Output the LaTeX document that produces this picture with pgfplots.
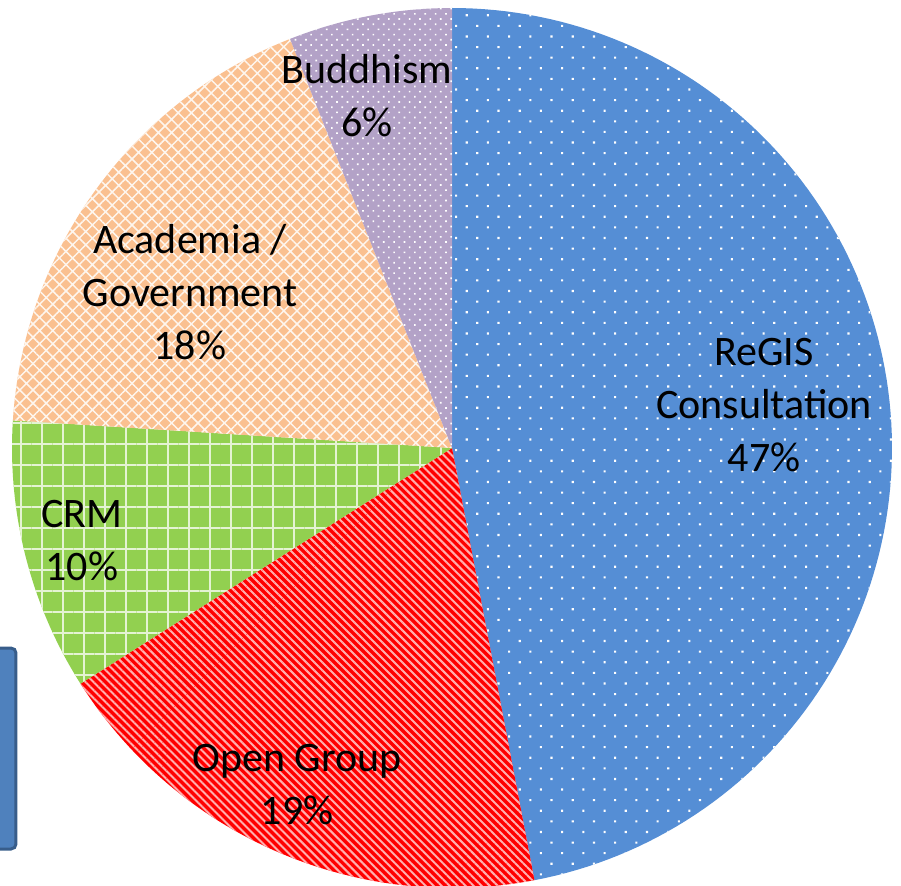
\documentclass[border=0pt]{standalone}
\usepackage{pgfplots}
\pgfplotsset{compat=1.18}
\usepackage{fontspec}
\setmainfont{Carlito}
\usetikzlibrary{patterns.meta}
\definecolor{cBlue}{RGB}{85,142,213}
\definecolor{cRed}{RGB}{255,0,0}
\definecolor{cGreen}{RGB}{146,208,80}
\definecolor{cOrange}{RGB}{250,192,144}
\definecolor{cPurple}{RGB}{179,162,199}
\definecolor{cBox}{RGB}{79,129,189}
\definecolor{cBoxEdge}{RGB}{56,93,138}
\definecolor{cStripe}{RGB}{255,175,175}
\tikzset{lbl/.style={font=\fontsize{12.6}{15.9}\selectfont, align=center, text=black, inner sep=0pt}}
% slice values (percent), clockwise from the top
\def\vReGIS{47}
\def\vOpen{19}
\def\vCRM{10}
\def\vAcad{18}
\def\vBudd{6}
\pgfmathsetmacro\aA{90-3.6*\vReGIS}
\pgfmathsetmacro\aB{\aA-3.6*\vOpen}
\pgfmathsetmacro\aC{\aB-3.6*\vCRM}
\pgfmathsetmacro\aD{\aC-3.6*\vAcad}
\pgfmathsetmacro\aE{\aD-3.6*\vBudd}
\begin{document}
\begin{tikzpicture}
\begin{axis}[
  scale only axis, width=270.3pt, height=265.5pt,
  xmin=0, xmax=901, ymin=0, ymax=885,
  hide axis, clip=true,
]
% box at the left
\addplot[fill=cBox, draw=cBoxEdge, line width=0.9pt, rounded corners=1.5pt]
  coordinates {(-20,36) (16,36) (16,237) (-20,237)} -- cycle;
% slices
\addplot[draw=none, fill=cBlue, postaction={pattern={Dots[angle=45,distance=4.5pt,radius=0.45pt]}, pattern color=white},
  domain=\aA:90, samples=120] ({452+440*cos(x)},{437+440*sin(x)}) -- (axis cs:452,437) -- cycle;
\addplot[draw=none, fill=cRed, postaction={pattern={Lines[angle=-45,distance=1.7pt,line width=0.6pt]}, pattern color=cStripe},
  domain=\aB:\aA, samples=60] ({452+440*cos(x)},{437+440*sin(x)}) -- (axis cs:452,437) -- cycle;
\addplot[draw=none, fill=cGreen, postaction={pattern={Hatch[angle=0,distance=6.3pt,line width=0.5pt]}, pattern color=white!75!cGreen},
  domain=\aC:\aB, samples=40] ({452+440*cos(x)},{437+440*sin(x)}) -- (axis cs:452,437) -- cycle;
\addplot[draw=none, fill=cOrange, postaction={pattern={Hatch[angle=45,distance=2.8pt,line width=0.45pt]}, pattern color=white!85!cOrange},
  domain=\aD:\aC, samples=60] ({452+440*cos(x)},{437+440*sin(x)}) -- (axis cs:452,437) -- cycle;
\addplot[draw=none, fill=cPurple, postaction={pattern={Dots[angle=45,distance=2.2pt,radius=0.35pt]}, pattern color=white},
  domain=\aE:\aD, samples=30] ({452+440*cos(x)},{437+440*sin(x)}) -- (axis cs:452,437) -- cycle;
% labels
\node[lbl] at (axis cs:764,480) {ReGIS\\Consultation\\47\%};
\node[lbl] at (axis cs:297,100) {Open Group\\19\%};
\node[lbl] at (axis cs:82,344) {CRM\\10\%};
\node[lbl] at (axis cs:190,593) {Academia /\\Government\\18\%};
\node[lbl] at (axis cs:367,789) {Buddhism\\6\%};
\end{axis}
\pgfresetboundingbox
\useasboundingbox (current axis.south west) rectangle (current axis.north east);
\end{tikzpicture}
\end{document}
